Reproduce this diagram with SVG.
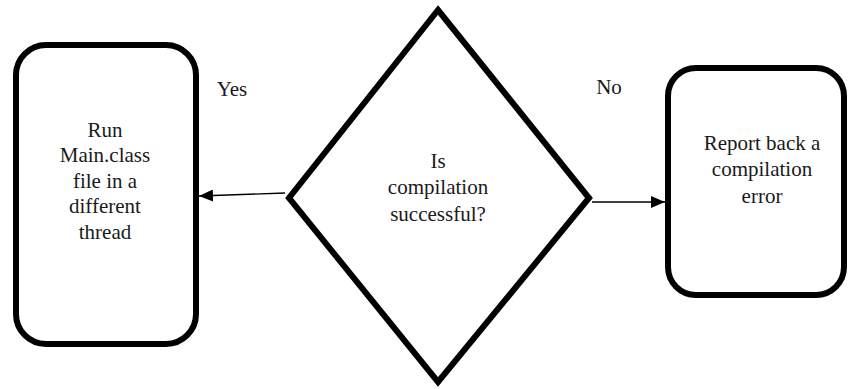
<svg xmlns="http://www.w3.org/2000/svg" width="850" height="389" viewBox="0 0 850 389">
<defs>
<style>
.box{fill:#fff;stroke:#000;stroke-width:6}
.t{font-family:'Liberation Serif','Times New Roman',Times,serif;font-size:21px;fill:#1a1a1a;text-anchor:middle}
.c{stroke:#000;stroke-width:1.3;fill:none}
</style>
<marker id="ah" viewBox="0 0 14 12" refX="14" refY="6" markerWidth="14" markerHeight="12" markerUnits="userSpaceOnUse" orient="auto">
<path d="M0,0 L14,6 L0,12 Z" fill="#000"/>
</marker>
</defs>
<rect width="850" height="389" fill="#fff"/>
<g id="run" font-family="Liberation Serif, serif">
<rect class="box" x="16" y="45" width="180" height="299" rx="30"/>
<text class="t" x="105" y="137">Run</text>
<text class="t" x="105" y="162">Main.class</text>
<text class="t" x="105" y="188">file in a</text>
<text class="t" x="105" y="213">different</text>
<text class="t" x="105" y="239">thread</text>
</g>
<g id="decision" font-family="Liberation Serif, serif">
<polygon class="box" points="438,10 589,198 438,382 289,198" stroke-width="5.5"/>
<text class="t" x="438" y="168">Is</text>
<text class="t" x="438" y="194">compilation</text>
<text class="t" x="438" y="221">successful?</text>
</g>
<g id="report" font-family="Liberation Serif, serif">
<rect class="box" x="668" y="68" width="176" height="227" rx="28"/>
<text class="t" x="762" y="150">Report back a</text>
<text class="t" x="762" y="176">compilation</text>
<text class="t" x="762" y="203">error</text>
</g>
<g id="connectors" font-family="Liberation Serif, serif">
<line class="c" x1="285" y1="193" x2="199" y2="196" marker-end="url(#ah)"/>
<line class="c" x1="592" y1="202" x2="665" y2="202" marker-end="url(#ah)"/>
<text class="t" x="232" y="96">Yes</text>
<text class="t" x="609" y="94">No</text>
</g>
</svg>
